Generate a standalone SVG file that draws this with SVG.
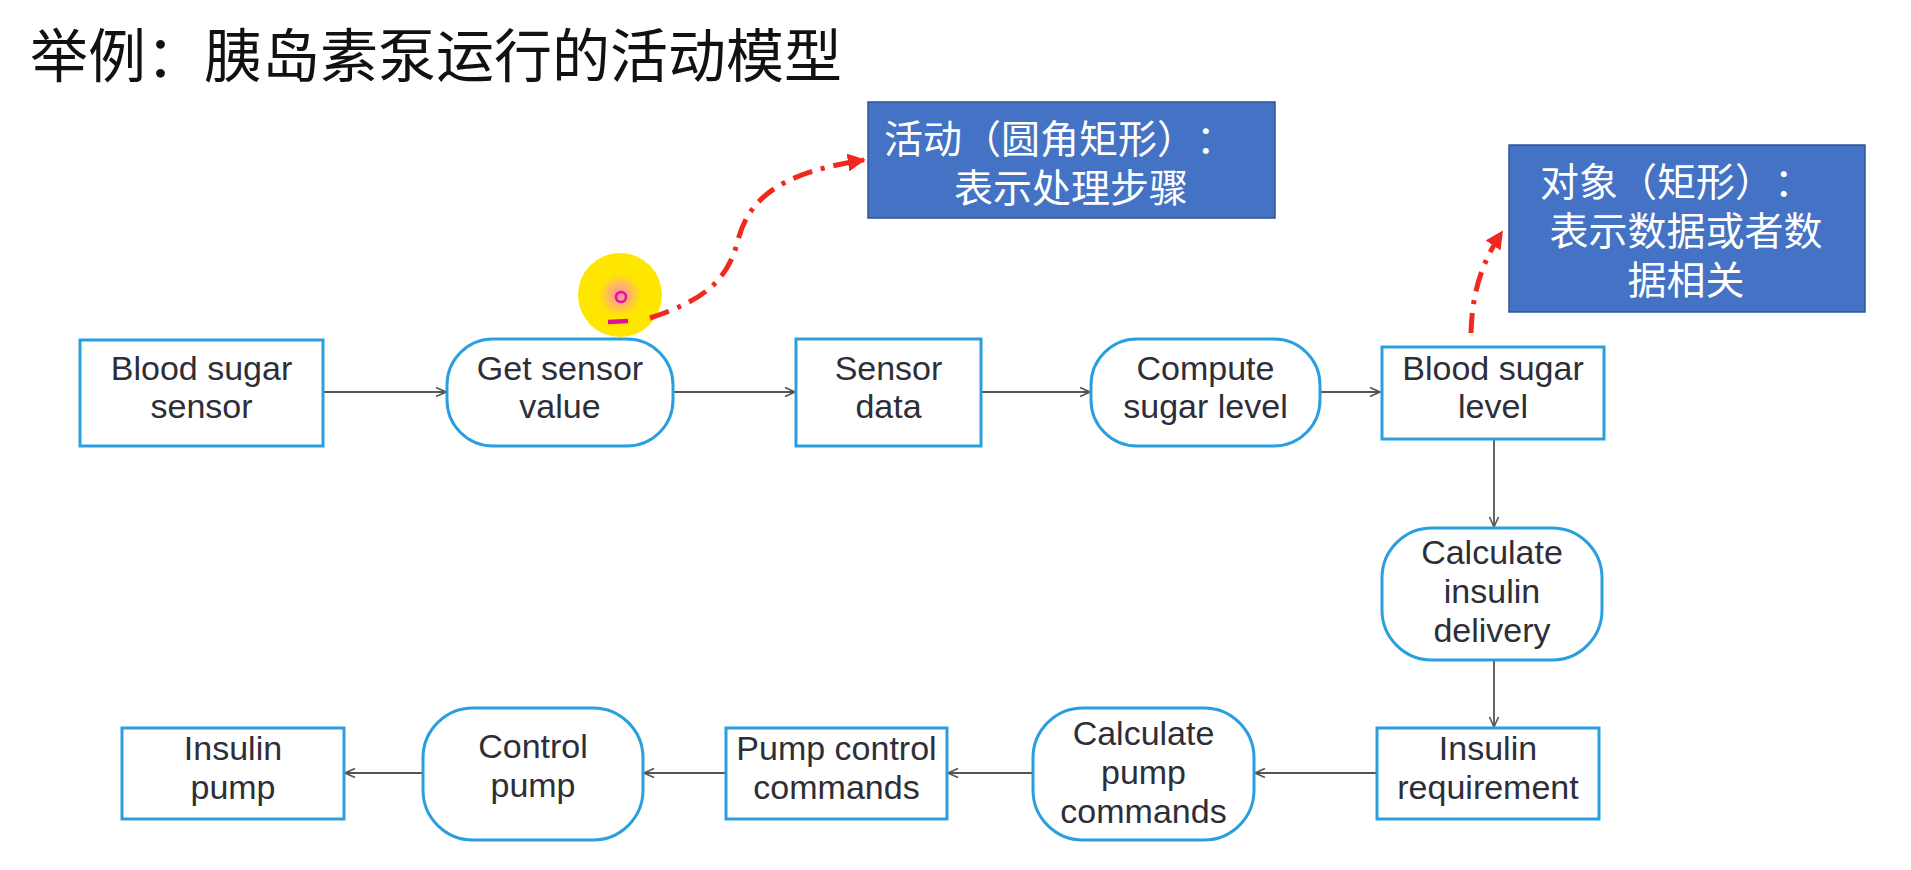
<svg xmlns="http://www.w3.org/2000/svg" width="1911" height="870" viewBox="0 0 1911 870">
  <defs>
    <style>
      .title { font-family: "Noto Sans CJK SC", "Noto Sans", sans-serif; font-size: 58px; fill: #111; text-spacing-trim: space-all; }
      .note { fill: #4472c4; stroke: #2f5597; stroke-width: 1.5; }
      .note-text { font-family: "Noto Sans CJK SC", "Noto Sans", sans-serif; font-size: 39px; fill: #fff; text-spacing-trim: space-all; font-feature-settings: "chws" 0, "halt" 0; }
      .obj, .act { fill: #fff; stroke: #2a9fdf; stroke-width: 3; }
      .label { font-family: "Liberation Sans", Arial, sans-serif; font-size: 34px; fill: #2e2e38; text-anchor: middle; }
      .flow { fill: none; stroke: #555; stroke-width: 1.8; }
      .pointer { fill: none; stroke: #f0281e; stroke-width: 5; stroke-dasharray: 20 9 4 9; }
    </style>
    <marker id="arr" viewBox="0 0 12 12" refX="11" refY="6" markerWidth="12" markerHeight="12" markerUnits="userSpaceOnUse" orient="auto">
      <path d="M1,1.5 L11,6 L1,10.5" fill="none" stroke="#555" stroke-width="1.6"/>
    </marker>
    <marker id="redArr" viewBox="0 0 10 10" refX="9" refY="5" markerWidth="18" markerHeight="18" markerUnits="userSpaceOnUse" orient="auto">
      <path d="M0,0 L10,5 L0,10 Z" fill="#f0281e"/>
    </marker>
    <radialGradient id="glow" cx="0.5" cy="0.5" r="0.5">
      <stop offset="0" stop-color="#ff80b0"/>
      <stop offset="0.22" stop-color="#ffb070"/>
      <stop offset="0.5" stop-color="#ffe600"/>
      <stop offset="1" stop-color="#ffe600"/>
    </radialGradient>
  </defs>

  <rect x="0" y="0" width="1911" height="870" fill="#fff"/>

  <!-- heading -->
  <text class="title" x="30" y="77">举例：胰岛素泵运行的活动模型</text>

  <!-- legend notes -->
  <g id="note-activity">
    <rect class="note" x="868" y="102" width="407" height="116"/>
    <text class="note-text" x="884" y="153">活动（圆角矩形）：</text>
    <text class="note-text" x="1071" y="202" text-anchor="middle">表示处理步骤</text>
  </g>
  <g id="note-object">
    <rect class="note" x="1509" y="145" width="356" height="167"/>
    <text class="note-text" x="1540" y="196">对象（矩形）：</text>
    <text class="note-text" x="1686" y="245" text-anchor="middle">表示数据或者数</text>
    <text class="note-text" x="1686" y="294" text-anchor="middle">据相关</text>
  </g>

  <!-- pointer highlight -->
  <g id="pointer-spot">
    <circle cx="620" cy="295" r="42" fill="url(#glow)"/>
    <circle cx="621" cy="297" r="5" fill="none" stroke="#e0109a" stroke-width="2.5"/>
    <line x1="608" y1="322" x2="628" y2="321" stroke="#e0109a" stroke-width="4.5"/>
  </g>

  <!-- hand-drawn pointer arrows -->
  <g id="pointers">
    <path class="pointer" d="M650 318 C 705 300, 728 280, 738 240 C 750 195, 785 172, 864 160" marker-end="url(#redArr)"/>
    <path class="pointer" d="M1471 333 C 1472 300, 1478 268, 1502 232" marker-end="url(#redArr)"/>
  </g>

  <!-- connectors -->
  <g id="connectors">
    <line class="flow" x1="323" y1="392" x2="446" y2="392" marker-end="url(#arr)"/>
    <line class="flow" x1="673" y1="392" x2="795" y2="392" marker-end="url(#arr)"/>
    <line class="flow" x1="981" y1="392" x2="1090" y2="392" marker-end="url(#arr)"/>
    <line class="flow" x1="1320" y1="392" x2="1380" y2="392" marker-end="url(#arr)"/>
    <line class="flow" x1="1494" y1="439" x2="1494" y2="527" marker-end="url(#arr)"/>
    <line class="flow" x1="1494" y1="660" x2="1494" y2="727" marker-end="url(#arr)"/>
    <line class="flow" x1="1377" y1="773" x2="1255" y2="773" marker-end="url(#arr)"/>
    <line class="flow" x1="1033" y1="773" x2="948" y2="773" marker-end="url(#arr)"/>
    <line class="flow" x1="726" y1="773" x2="644" y2="773" marker-end="url(#arr)"/>
    <line class="flow" x1="423" y1="773" x2="345" y2="773" marker-end="url(#arr)"/>
  </g>

  <!-- nodes -->
  <g id="blood-sugar-sensor">
    <rect class="obj" x="80" y="340" width="243" height="106"/>
    <text class="label"><tspan x="201.5" y="380">Blood sugar</tspan><tspan x="201.5" y="418">sensor</tspan></text>
  </g>
  <g id="get-sensor-value">
    <rect class="act" x="447" y="339" width="226" height="107" rx="46" ry="46"/>
    <text class="label"><tspan x="560" y="380">Get sensor</tspan><tspan x="560" y="418">value</tspan></text>
  </g>
  <g id="sensor-data">
    <rect class="obj" x="796" y="339" width="185" height="107"/>
    <text class="label"><tspan x="888.5" y="380">Sensor</tspan><tspan x="888.5" y="418">data</tspan></text>
  </g>
  <g id="compute-sugar-level">
    <rect class="act" x="1091" y="339" width="229" height="107" rx="46" ry="46"/>
    <text class="label"><tspan x="1205.5" y="380">Compute</tspan><tspan x="1205.5" y="418">sugar level</tspan></text>
  </g>
  <g id="blood-sugar-level">
    <rect class="obj" x="1382" y="347" width="222" height="92"/>
    <text class="label"><tspan x="1493" y="380">Blood sugar</tspan><tspan x="1493" y="418">level</tspan></text>
  </g>
  <g id="calculate-insulin-delivery">
    <rect class="act" x="1382" y="528" width="220" height="132" rx="50" ry="50"/>
    <text class="label"><tspan x="1492" y="564">Calculate</tspan><tspan x="1492" y="603">insulin</tspan><tspan x="1492" y="642">delivery</tspan></text>
  </g>
  <g id="insulin-requirement">
    <rect class="obj" x="1377" y="728" width="222" height="91"/>
    <text class="label"><tspan x="1488" y="760">Insulin</tspan><tspan x="1488" y="799">requirement</tspan></text>
  </g>
  <g id="calculate-pump-commands">
    <rect class="act" x="1033" y="708" width="221" height="132" rx="50" ry="50"/>
    <text class="label"><tspan x="1143.5" y="745">Calculate</tspan><tspan x="1143.5" y="784">pump</tspan><tspan x="1143.5" y="823">commands</tspan></text>
  </g>
  <g id="pump-control-commands">
    <rect class="obj" x="726" y="728" width="221" height="91"/>
    <text class="label"><tspan x="836.5" y="760">Pump control</tspan><tspan x="836.5" y="799">commands</tspan></text>
  </g>
  <g id="control-pump">
    <rect class="act" x="423" y="708" width="220" height="132" rx="50" ry="50"/>
    <text class="label"><tspan x="533" y="758">Control</tspan><tspan x="533" y="797">pump</tspan></text>
  </g>
  <g id="insulin-pump">
    <rect class="obj" x="122" y="728" width="222" height="91"/>
    <text class="label"><tspan x="233" y="760">Insulin</tspan><tspan x="233" y="799">pump</tspan></text>
  </g>
</svg>
